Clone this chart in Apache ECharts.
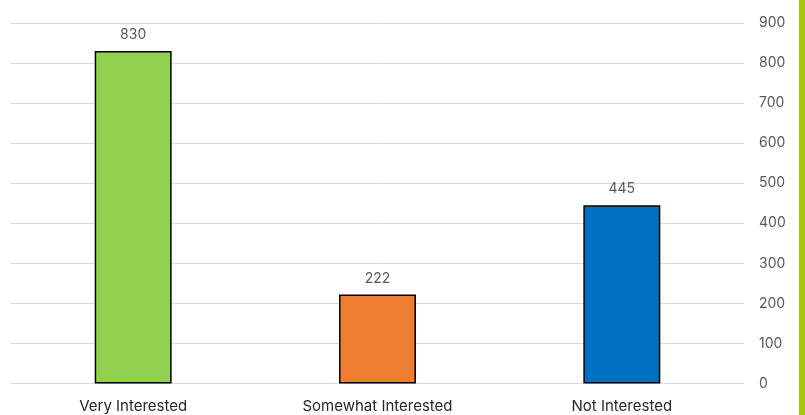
<!DOCTYPE html>
<html><head><meta charset="utf-8">
<script src="https://cdn.jsdelivr.net/npm/echarts@6/dist/echarts.min.js"></script>
<style>html,body{margin:0;padding:0;background:#fff}#c{width:805px;height:415px}</style>
</head><body><div id="c"></div>
<script>
const categories = ['Very Interested', 'Somewhat Interested', 'Not Interested'];
const values = [830, 222, 445];
const barColors = ['#92d050', '#ed7d31', '#0070c0'];
const yTicks = { min: 0, max: 900, interval: 100 };

const chart = echarts.init(document.getElementById('c'));
chart.setOption({
  animation: false,
  grid: { left: 11, right: 61, top: 23, bottom: 31.5, containLabel: false },
  xAxis: {
    type: 'category', data: categories,
    axisLine: { show: true, lineStyle: { color: '#d9d9d9', width: 1 } },
    axisTick: { show: false },
    axisLabel: { color: '#262626', fontSize: 15, fontFamily: 'Inter, Roboto, sans-serif', margin: 15 }
  },
  yAxis: {
    type: 'value', position: 'right', min: yTicks.min, max: yTicks.max, interval: yTicks.interval,
    axisLine: { show: false }, axisTick: { show: false },
    splitLine: { lineStyle: { color: '#d9d9d9', width: 1 } },
    axisLabel: { color: '#595959', fontSize: 14, fontFamily: 'Inter, Roboto, sans-serif', margin: 15 }
  },
  series: [{
    type: 'bar', barWidth: '31.5%',
    data: values.map((v, i) => ({ value: v, itemStyle: { color: barColors[i] } })),
    itemStyle: { borderColor: '#000', borderWidth: 1.5 },
    label: { show: true, position: 'top', distance: 9, color: '#595959', fontSize: 14, fontFamily: 'Inter, Roboto, sans-serif' }
  }],
  graphic: [{
    type: 'rect', shape: { x: 799, y: 0, width: 6, height: 415 },
    style: { fill: '#a8c60c' }, silent: true
  }]
});
</script></body></html>
